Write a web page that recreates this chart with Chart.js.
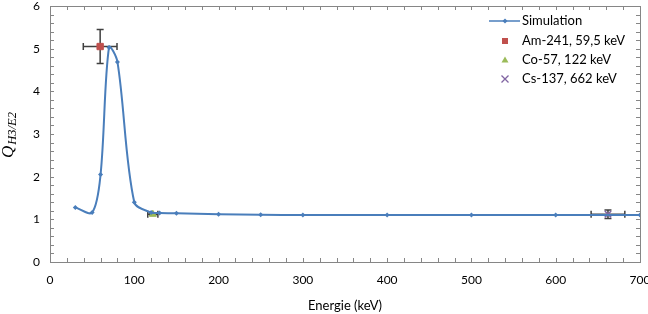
<!DOCTYPE html>
<html>
<head>
<meta charset="utf-8">
<script src="https://cdn.jsdelivr.net/npm/chart.js@4/dist/chart.umd.min.js"></script>
<style>
  body { margin: 0; background: #fff; }
  #wrap { width: 648px; height: 314px; position: relative; }
</style>
</head>
<body>
<div id="wrap"><canvas id="myChart"></canvas></div>
<script>
// simulation curve
const simEnergy = [30, 50, 60, 70, 80, 100, 120, 130, 150, 200, 250, 300, 400, 500, 600, 700];
const simQ = [1.28, 1.16, 2.05, 5.03, 4.69, 1.40, 1.16, 1.15, 1.14, 1.12, 1.11, 1.10, 1.10, 1.10, 1.10, 1.10];

// measurements (value, error in keV, error in Q)
const amEnergy = [59.5], amQ = [5.05], amEnergyErr = [20], amQErr = [0.4];
const coEnergy = [122], coQ = [1.12], coEnergyErr = [6], coQErr = [0.03];
const csEnergy = [662], csQ = [1.12], csEnergyErr = [20], csQErr = [0.1];

const xTicks = [0, 100, 200, 300, 400, 500, 600, 700];
const yTicks = [0, 1, 2, 3, 4, 5, 6];

const labels = ['Simulation', 'Am-241, 59,5 keV', 'Co-57, 122 keV', 'Cs-137, 662 keV'];
const colors = ['#4A7EBB', '#C0504D', '#9BBB59', '#8064A2'];

function pts(xs, ys) { return xs.map((x, i) => ({ x: x, y: ys[i] })); }

const errs = {
  1: { e: amEnergyErr, q: amQErr, xs: amEnergy, ys: amQ },
  2: { e: coEnergyErr, q: coQErr, xs: coEnergy, ys: coQ },
  3: { e: csEnergyErr, q: csQErr, xs: csEnergy, ys: csQ }
};

const FONT = 'Lato';

const extras = {
  id: 'extras',
  beforeDatasetDraw(chart, args) {
    const e = errs[args.index];
    if (!e) return;
    const xs = chart.scales.x, ys = chart.scales.y, c = chart.ctx;
    c.save();
    c.strokeStyle = '#404040';
    c.lineWidth = 1.5;
    e.xs.forEach((v, i) => {
      const px = xs.getPixelForValue(v), py = ys.getPixelForValue(e.ys[i]);
      const x1 = xs.getPixelForValue(v - e.e[i]), x2 = xs.getPixelForValue(v + e.e[i]);
      const y1 = ys.getPixelForValue(e.ys[i] + e.q[i]), y2 = ys.getPixelForValue(e.ys[i] - e.q[i]);
      c.beginPath();
      c.moveTo(x1, py); c.lineTo(x2, py);
      c.moveTo(x1, py - 3.5); c.lineTo(x1, py + 3.5);
      c.moveTo(x2, py - 3.5); c.lineTo(x2, py + 3.5);
      c.moveTo(px, y1); c.lineTo(px, y2);
      c.moveTo(px - 3.5, y1); c.lineTo(px + 3.5, y1);
      c.moveTo(px - 3.5, y2); c.lineTo(px + 3.5, y2);
      c.stroke();
    });
    c.restore();
  },
  afterDraw(chart) {
    const a = chart.chartArea, c = chart.ctx, xs = chart.scales.x, ys = chart.scales.y;
    c.save();
    // frame + inner ticks
    c.strokeStyle = '#868686';
    c.lineWidth = 1;
    c.strokeRect(Math.round(a.left) + 0.5, Math.round(a.top) + 0.5, Math.round(a.right - a.left), Math.round(a.bottom - a.top));
    c.beginPath();
    for (let v = 20; v < 700; v += 20) {
      const px = Math.round(xs.getPixelForValue(v)) + 0.5;
      c.moveTo(px, a.bottom); c.lineTo(px, a.bottom - 4);
      c.moveTo(px, a.top); c.lineTo(px, a.top + 4);
    }
    for (let v = 0.2; v < 6; v += 0.2) {
      const py = Math.round(ys.getPixelForValue(v)) + 0.5;
      c.moveTo(a.left, py); c.lineTo(a.left + 4, py);
      c.moveTo(a.right, py); c.lineTo(a.right - 4, py);
    }
    c.stroke();

    // y axis title Q_{H3/E2}
    c.translate(13, 158);
    c.rotate(-Math.PI / 2);
    c.fillStyle = '#000';
    c.textBaseline = 'alphabetic';
    c.font = 'italic 17px "Liberation Serif"';
    c.fillText('Q', 0, 0);
    const qw = c.measureText('Q').width;
    c.font = 'italic 12.5px "Liberation Serif"';
    c.fillText('H3/E2', qw + 1, 3);
    c.setTransform(1, 0, 0, 1, 0, 0);

    // legend
    const lx = 505, tx = 522, rows = [21, 41, 60, 79];
    c.font = '13px ' + FONT;
    c.textBaseline = 'middle';
    c.fillStyle = '#000';
    labels.forEach((t, i) => c.fillText(t, tx, rows[i]));
    c.strokeStyle = colors[0]; c.lineWidth = 1.5;
    c.beginPath(); c.moveTo(489, rows[0]); c.lineTo(520, rows[0]); c.stroke();
    c.fillStyle = colors[0];
    c.beginPath(); c.moveTo(lx, rows[0] - 2.5); c.lineTo(lx + 2.5, rows[0]); c.lineTo(lx, rows[0] + 2.5); c.lineTo(lx - 2.5, rows[0]); c.fill();
    c.fillStyle = colors[1]; c.fillRect(lx - 3, rows[1] - 3, 6, 6);
    c.fillStyle = colors[2];
    c.beginPath(); c.moveTo(lx, rows[2] - 3.5); c.lineTo(lx + 3.5, rows[2] + 2.5); c.lineTo(lx - 3.5, rows[2] + 2.5); c.fill();
    c.strokeStyle = colors[3]; c.lineWidth = 1.3;
    c.beginPath(); c.moveTo(lx - 3.5, rows[3] - 3.5); c.lineTo(lx + 3.5, rows[3] + 3.5);
    c.moveTo(lx + 3.5, rows[3] - 3.5); c.lineTo(lx - 3.5, rows[3] + 3.5); c.stroke();
    c.restore();
  }
};

const ctx = document.getElementById('myChart');
const myChart = new Chart(ctx, {
  type: 'scatter',
  data: {
    datasets: [
      {
        label: labels[0],
        data: pts(simEnergy, simQ),
        showLine: true,
        tension: 0.32,
        borderColor: colors[0],
        backgroundColor: colors[0],
        borderWidth: 2,
        pointStyle: 'rectRot',
        pointRadius: 2.5,
        pointBorderWidth: 0
      },
      {
        label: labels[1],
        data: pts(amEnergy, amQ),
        backgroundColor: colors[1],
        borderColor: colors[1],
        pointStyle: 'rect',
        pointRadius: 4.5
      },
      {
        label: labels[2],
        data: pts(coEnergy, coQ),
        backgroundColor: colors[2],
        borderColor: colors[2],
        pointStyle: 'triangle',
        pointRadius: 4
      },
      {
        label: labels[3],
        data: pts(csEnergy, csQ),
        backgroundColor: colors[3],
        borderColor: colors[3],
        borderWidth: 1.5,
        pointStyle: 'crossRot',
        pointRadius: 4.5
      }
    ]
  },
  options: {
    responsive: true,
    maintainAspectRatio: false,
    animation: false,
    layout: { padding: { top: 6, right: 8, left: 0, bottom: 0 } },
    plugins: { legend: { display: false }, tooltip: { enabled: false } },
    scales: {
      x: {
        type: 'linear',
        min: 0, max: 700,
        afterBuildTicks: s => { s.ticks = xTicks.map(v => ({ value: v })); },
        afterFit: s => { s.height = 52; s.paddingLeft = 0; s.paddingRight = 0; },
        grid: { display: false, drawTicks: false },
        border: { display: false },
        ticks: { padding: 11, color: '#000', font: { family: FONT, size: 12 }, maxRotation: 0 },
        title: { display: true, text: 'Energie (keV)', color: '#000', font: { family: FONT, size: 13 }, padding: { top: 4, bottom: 0 } }
      },
      y: {
        type: 'linear',
        min: 0, max: 6,
        afterBuildTicks: s => { s.ticks = yTicks.map(v => ({ value: v })); },
        afterFit: s => { s.width = 50; s.paddingTop = 0; s.paddingBottom = 0; },
        grid: { display: false, drawTicks: false },
        border: { display: false },
        ticks: { padding: 10, color: '#000', font: { family: FONT, size: 12 } }
      }
    }
  },
  plugins: [extras]
});
</script>
</body>
</html>
